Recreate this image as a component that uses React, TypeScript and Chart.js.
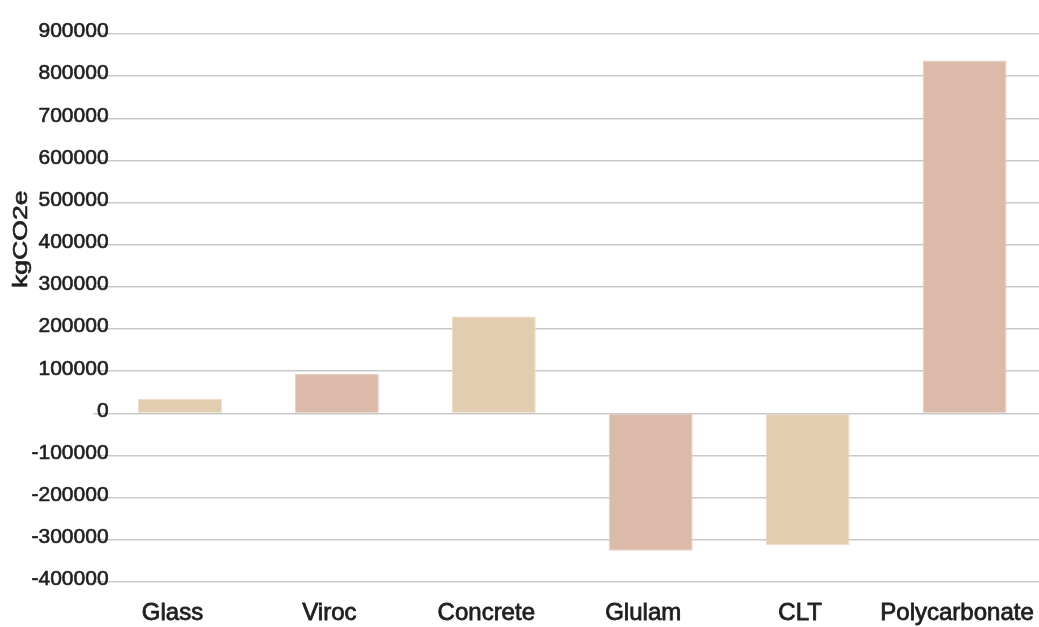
import React, { useEffect, useRef } from "react";
import { Chart, registerables } from "chart.js";

Chart.register(...registerables);

const categories = ["Glass", "Viroc", "Concrete", "Glulam", "CLT", "Polycarbonate"];
const values = [34000, 94000, 230000, -326000, -312000, 837000];
const barColors = ["#e3cdb0", "#dcbaaa", "#e3cdb0", "#dcbaaa", "#e3cdb0", "#dcbaaa"];
const barEdgeColors = ["#eddcc6", "#e8cdc0", "#eddcc6", "#e8cdc0", "#eddcc6", "#e8cdc0"];
const yTitle = "kgCO2e";
const yMin = -400000;
const yMax = 900000;
const yStep = 100000;

const FONT = "'Liberation Sans', Arial, Helvetica, sans-serif";
const TEXT_COLOR = "#1e1e1e";

const yTitlePlugin = {
  id: "yTitlePlugin",
  afterDraw(chart: any) {
    const ctx = chart.ctx as CanvasRenderingContext2D;
    ctx.save();
    ctx.translate(21, 288);
    ctx.rotate(-Math.PI / 2);
    ctx.scale(1.33, 1);
    ctx.font = `20px ${FONT}`;
    ctx.fillStyle = TEXT_COLOR;
    ctx.strokeStyle = TEXT_COLOR;
    ctx.lineWidth = 0.6;
    ctx.textAlign = "left";
    ctx.textBaseline = "middle";
    ctx.strokeText(yTitle, 0, 0);
    ctx.fillText(yTitle, 0, 0);
    ctx.restore();
  },
};

export default function App() {
  const canvasRef = useRef<HTMLCanvasElement | null>(null);

  useEffect(() => {
    if (!canvasRef.current) return;
    const chart = new Chart(canvasRef.current, {
      type: "bar",
      data: {
        labels: categories,
        datasets: [
          {
            data: values,
            backgroundColor: barColors,
            borderColor: barEdgeColors,
            borderWidth: 1,
            barPercentage: 0.535,
            categoryPercentage: 1,
          },
        ],
      },
      plugins: [yTitlePlugin],
      options: {
        responsive: false,
        animation: false,
        layout: { padding: { top: 34, right: 2, left: 0, bottom: 0 } },
        plugins: {
          legend: { display: false },
          tooltip: { enabled: false },
          title: { display: false },
        },
        scales: {
          x: {
            grid: { display: false, drawTicks: false },
            border: { display: false },
            ticks: {
              color: TEXT_COLOR,
              font: { family: FONT, size: 24 },
              textStrokeColor: TEXT_COLOR,
              textStrokeWidth: 0.8,
              padding: 17,
              labelOffset: -7.5,
              maxRotation: 0,
              autoSkip: false,
            },
            afterFit: (s: any) => {
              s.height = 45;
              s.paddingLeft = 0;
              s.paddingRight = 0;
            },
          },
          y: {
            min: yMin,
            max: yMax,
            grid: { color: "#c9c9c9", lineWidth: 1.5, tickLength: 8.5, drawTicks: true },
            border: { display: false },
            ticks: {
              stepSize: yStep,
              color: TEXT_COLOR,
              font: { family: FONT, size: 21 },
              textStrokeColor: TEXT_COLOR,
              textStrokeWidth: 0.6,
              mirror: true,
              crossAlign: "far",
              padding: -70,
              labelOffset: -2.5,
              callback: (v: any) => String(v),
            },
            afterFit: (s: any) => {
              s.width = 101.5;
            },
          },
        },
      },
    });
    return () => chart.destroy();
  }, []);

  return (
    <div
      style={{
        position: "fixed",
        left: 0,
        top: 0,
        width: 1039,
        height: 627,
        overflow: "hidden",
        background: "#ffffff",
      }}
    >
      <canvas ref={canvasRef} width={1045} height={627} style={{ width: 1045, height: 627, display: "block" }} />
    </div>
  );
}
